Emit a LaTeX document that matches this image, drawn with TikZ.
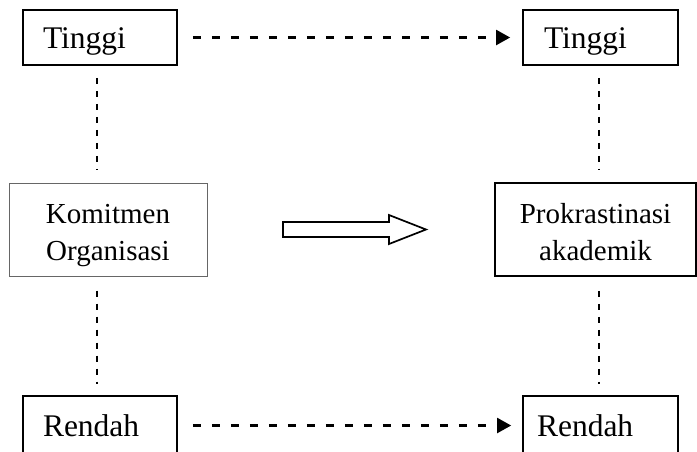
\documentclass[tikz,border=0pt]{standalone}
\usepackage{fontspec}
\setmainfont{Liberation Serif}
\usetikzlibrary{arrows.meta,positioning}

\tikzset{
    levelbox/.style={draw, line width=1.7pt, align=left, minimum height=55pt,
        font=\fontsize{31.5}{37}\selectfont, text height=21pt, text depth=0pt},
    varbox/.style={draw, align=center, minimum height=93pt,
        font=\fontsize{29}{37}\selectfont, text height=61pt, text depth=0pt},
    flowline/.style={line width=2.2pt, dash pattern=on 8pt off 11pt,
        -{Triangle[length=14pt,width=15pt]}},
    linkline/.style={line width=1.4pt, dash pattern=on 6pt off 7pt}
}

\begin{document}
\begin{tikzpicture}[x=1pt, y=-1pt]
                        \useasboundingbox (0, 0) rectangle (697, 451);

                        % levels
                        \node[levelbox, text width=114pt, inner xsep=20pt] (tinggiL) at (100, 37.5) {Tinggi};
                        \node[levelbox, text width=113pt, inner xsep=21pt] (tinggiR) at (600.5, 37.5) {Tinggi};
                        \node[levelbox, text width=114pt, inner xsep=20pt, minimum height=59pt] (rendahL) at (100, 425.5) {Rendah};
                        \node[levelbox, text width=127pt, inner xsep=14pt, minimum height=59pt] (rendahR) at (600.5, 425.5) {Rendah};

                        % variables
                        \node[varbox, draw=black!60, line width=1pt, minimum width=198pt] (komitmen) at (108, 229.5) {Komitmen\\Organisasi};
                        \node[varbox, line width=1.5pt, minimum width=201pt] (prokras) at (595.5, 229.5) {Prokrastinasi\\akademik};

                        \draw[flowline, shorten <=15pt, shorten >=12pt] (tinggiL) -- (tinggiR);
                        \draw[flowline, shorten <=15pt, shorten >=11pt] (rendahL) -- (rendahR);

                        \draw[linkline, shorten <=12pt, shorten >=13pt]
                        ([xshift=-3pt]tinggiL.south) -- ([xshift=-3pt]tinggiL.south |- komitmen.north);
                        \draw[linkline, shorten <=14pt, shorten >=11pt]
                        ([xshift=-3pt]rendahL.north |- komitmen.south) -- ([xshift=-3pt]rendahL.north);
                        \draw[linkline, shorten <=12pt, shorten >=13pt]
                        ([xshift=-1.5pt]tinggiR.south) -- ([xshift=-1.5pt]tinggiR.south |- prokras.north);
                        \draw[linkline, shorten <=14pt, shorten >=11pt]
                        ([xshift=-1.5pt]rendahR.north |- prokras.south) -- ([xshift=-1.5pt]rendahR.north);

                        % hollow arrow
                        \draw[line width=1.7pt, line join=miter]
                        (283, 222) -- (389, 222) -- (389, 215) -- (426, 229.5)
                        -- (389, 244) -- (389, 237) -- (283, 237) -- cycle;
                    \end{tikzpicture}
\end{document}
